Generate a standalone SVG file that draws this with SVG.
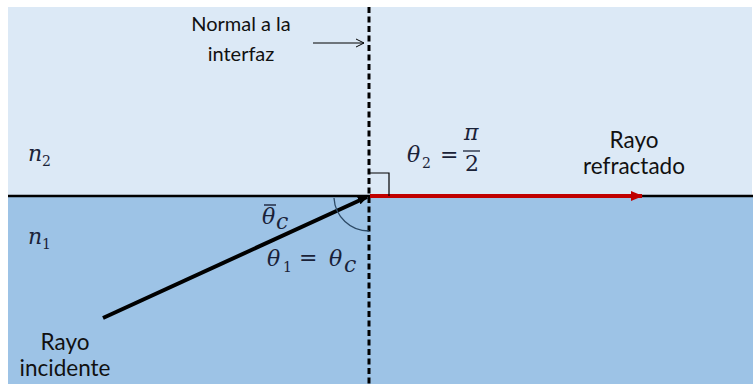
<svg xmlns="http://www.w3.org/2000/svg" width="753" height="384" viewBox="0 0 753 384">
<defs>
<style>
.lbl{font-family:Lato,"Liberation Sans",Arial,sans-serif;font-size:22.5px;fill:#111;text-anchor:middle}
.top{font-size:20px}
.m{font-family:"DejaVu Serif","Liberation Serif",serif;font-style:italic;font-size:22px;fill:#1a2238}
.sub{font-family:"DejaVu Serif","Liberation Serif",serif;font-size:14px;fill:#1a2238}
.op{font-family:"DejaVu Serif","Liberation Serif",serif;font-size:22px;fill:#1a2238}
</style>
<marker id="ak" markerWidth="10" markerHeight="8" refX="9" refY="4" orient="auto" markerUnits="userSpaceOnUse">
<path d="M0,0 L10,4 L0,8 Z" fill="#000"/>
</marker>
<marker id="ar" markerWidth="12" markerHeight="10" refX="11" refY="5" orient="auto" markerUnits="userSpaceOnUse">
<path d="M0,0 L12,5 L0,10 Z" fill="#c00000"/>
</marker>
<marker id="ao" markerWidth="10" markerHeight="10" refX="9" refY="5" orient="auto" markerUnits="userSpaceOnUse">
<path d="M1,1 L9,5 L1,9" fill="none" stroke="#000" stroke-width="1"/>
</marker>
</defs>
<rect width="753" height="384" fill="#fff"/>
<g id="medium2"><rect x="8" y="7" width="744" height="189" fill="#dce9f6"/></g>
<g id="medium1"><rect x="8" y="196" width="745" height="188" fill="#9dc3e6"/></g>
<g id="connectors">
<line x1="8" y1="196" x2="753" y2="196" stroke="#000" stroke-width="2.5"/>
<line x1="369" y1="7" x2="369" y2="384" stroke="#000" stroke-width="3" stroke-dasharray="6,3.5"/>
<line x1="103" y1="318" x2="367" y2="197" stroke="#000" stroke-width="4" marker-end="url(#ak)"/>
<line x1="370" y1="196" x2="642" y2="196" stroke="#c00000" stroke-width="4" marker-end="url(#ar)"/>
<line x1="313" y1="43" x2="364" y2="43" stroke="#000" stroke-width="1" marker-end="url(#ao)"/>
<path d="M334,198 A35,35 0 0 0 369,231" fill="none" stroke="#2d4a66" stroke-width="1.3"/>
<path d="M369,173 L389,173 L389,196" fill="none" stroke="#000" stroke-width="1.2"/>
</g>
<g id="normal-label">
<text class="lbl top" x="241" y="31">Normal a la</text>
<text class="lbl top" x="241" y="61">interfaz</text>
</g>
<g id="n2"><text class="m" x="28" y="161">n</text><text class="sub" x="42" y="166">2</text></g>
<g id="n1"><text class="m" x="28" y="244">n</text><text class="sub" x="42" y="249">1</text></g>
<g id="theta-c-bar">
<text class="m" x="262" y="224">θ</text><line x1="264" y1="205" x2="276" y2="205" stroke="#1a2238" stroke-width="1.4"/>
<text class="m" x="276" y="229" font-size="17">c</text>
</g>
<g id="theta1">
<text class="m" x="267" y="266">θ</text><text class="sub" x="283" y="272">1</text>
<text class="op" x="299" y="265">=</text>
<text class="m" x="329" y="266">θ</text><text class="m" x="344" y="272" font-size="17">c</text>
</g>
<g id="theta2">
<text class="m" x="407" y="162">θ</text><text class="sub" x="422" y="168">2</text>
<text class="op" x="440" y="162">=</text>
<text class="m" x="464" y="140">π</text>
<line x1="463" y1="151" x2="480" y2="151" stroke="#1a2238" stroke-width="1.3"/>
<text class="op" x="465" y="171">2</text>
</g>
<g id="refracted-label">
<text class="lbl" x="634" y="148">Rayo</text>
<text class="lbl" x="634" y="174">refractado</text>
</g>
<g id="incident-label">
<text class="lbl" x="65" y="350">Rayo</text>
<text class="lbl" x="65" y="376">incidente</text>
</g>
</svg>
